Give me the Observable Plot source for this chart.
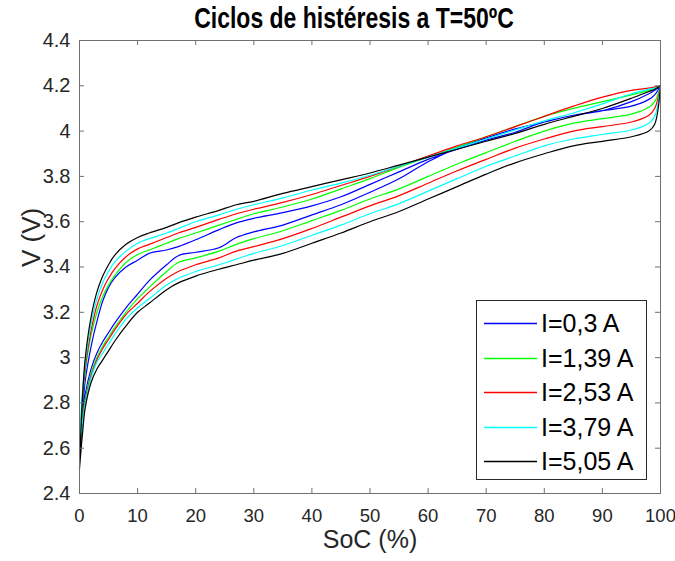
<!DOCTYPE html>
<html><head><meta charset="utf-8">
<script src="https://cdn.jsdelivr.net/npm/d3@7"></script>
<script src="https://cdn.jsdelivr.net/npm/@observablehq/plot@0.6"></script>
<style>
body{margin:0;background:#fff;}
#wrap{position:relative;width:675px;height:561px;font-family:"Liberation Sans",Arial,sans-serif;background:#fff;}
#title{position:absolute;top:2px;left:354px;transform:translateX(-50%) scaleY(1.25);transform-origin:50% 0;font-weight:bold;font-size:23px;white-space:nowrap;color:#000;}
#legend{position:absolute;left:476px;top:300px;width:169px;height:178px;border:1px solid #2a2a2a;background:#fff;}
.item{position:absolute;left:0;width:169px;height:30px;}
.item svg{position:absolute;left:7px;top:0;}
.item .tx{position:absolute;left:64px;top:0;line-height:30px;font-size:25px;color:#000;white-space:nowrap;}
</style>
</head><body>
<div id="wrap"><div id="title">Ciclos de histéresis a T=50ºC</div></div>
<script>
// SoC grid (%)
const soc = [0, 0.5, 1, 2, 3, 4, 5, 6, 8, 10, 12, 15, 17, 20, 24, 27, 30, 35, 40, 45, 50, 55, 60, 65, 70, 75, 80, 85, 90, 95, 98, 99, 100];
const labels = ["I=0,3 A", "I=1,39 A", "I=2,53 A", "I=3,79 A", "I=5,05 A"];
const colors = ["#0000ff", "#00ff00", "#ff0000", "#00ffff", "#000000"];
const xTicks = [0, 10, 20, 30, 40, 50, 60, 70, 80, 90, 100];
const yTicks = [2.4, 2.6, 2.8, 3, 3.2, 3.4, 3.6, 3.8, 4, 4.2, 4.4];

// charge (upper) branches, V
const charge03  = [2.64, 2.76, 2.90, 3.05, 3.16, 3.25, 3.31, 3.35, 3.40, 3.43, 3.46, 3.475, 3.49, 3.52, 3.565, 3.595, 3.615, 3.64, 3.67, 3.71, 3.765, 3.82, 3.875, 3.92, 3.96, 3.995, 4.04, 4.07, 4.09, 4.13, 4.165, 4.18, 4.20];
const charge139 = [2.56, 2.80, 2.94, 3.10, 3.20, 3.27, 3.32, 3.36, 3.42, 3.455, 3.475, 3.505, 3.525, 3.55, 3.585, 3.61, 3.635, 3.665, 3.70, 3.745, 3.79, 3.84, 3.885, 3.93, 3.975, 4.02, 4.065, 4.10, 4.13, 4.16, 4.18, 4.19, 4.20];
const charge253 = [2.58, 2.82, 2.96, 3.12, 3.23, 3.30, 3.35, 3.39, 3.445, 3.48, 3.50, 3.53, 3.55, 3.575, 3.61, 3.635, 3.655, 3.685, 3.72, 3.76, 3.80, 3.845, 3.89, 3.935, 3.975, 4.02, 4.065, 4.11, 4.15, 4.18, 4.19, 4.195, 4.20];
const charge379 = [2.62, 2.85, 2.98, 3.15, 3.26, 3.33, 3.38, 3.42, 3.47, 3.505, 3.525, 3.55, 3.57, 3.60, 3.63, 3.655, 3.675, 3.705, 3.74, 3.77, 3.805, 3.845, 3.885, 3.925, 3.965, 4.005, 4.045, 4.08, 4.12, 4.165, 4.185, 4.19, 4.20];
const charge505 = [2.51, 2.82, 3.00, 3.18, 3.29, 3.36, 3.41, 3.45, 3.50, 3.53, 3.55, 3.575, 3.595, 3.62, 3.65, 3.675, 3.69, 3.725, 3.755, 3.785, 3.815, 3.85, 3.885, 3.92, 3.955, 3.99, 4.03, 4.065, 4.10, 4.145, 4.175, 4.185, 4.20];

// discharge (lower) branches, V
const discharge03  = [2.64, 2.74, 2.84, 2.95, 3.02, 3.07, 3.11, 3.15, 3.22, 3.28, 3.34, 3.41, 3.45, 3.465, 3.485, 3.53, 3.555, 3.585, 3.63, 3.675, 3.73, 3.79, 3.865, 3.925, 3.97, 4.01, 4.04, 4.07, 4.09, 4.11, 4.14, 4.16, 4.20];
const discharge139 = [2.56, 2.72, 2.82, 2.93, 3.00, 3.05, 3.09, 3.13, 3.20, 3.26, 3.31, 3.38, 3.42, 3.44, 3.47, 3.50, 3.525, 3.56, 3.605, 3.65, 3.70, 3.745, 3.80, 3.855, 3.905, 3.955, 4.00, 4.035, 4.055, 4.075, 4.105, 4.13, 4.20];
const discharge253 = [2.58, 2.71, 2.81, 2.92, 2.99, 3.04, 3.08, 3.12, 3.19, 3.24, 3.29, 3.35, 3.38, 3.41, 3.44, 3.47, 3.49, 3.525, 3.57, 3.62, 3.67, 3.715, 3.77, 3.825, 3.875, 3.925, 3.965, 4.00, 4.02, 4.04, 4.07, 4.10, 4.20];
const discharge379 = [2.62, 2.71, 2.80, 2.91, 2.98, 3.02, 3.06, 3.10, 3.17, 3.22, 3.26, 3.32, 3.35, 3.38, 3.41, 3.435, 3.46, 3.495, 3.54, 3.585, 3.635, 3.68, 3.735, 3.79, 3.845, 3.89, 3.935, 3.965, 3.985, 4.005, 4.035, 4.065, 4.20];
const discharge505 = [2.51, 2.66, 2.78, 2.89, 2.95, 2.99, 3.03, 3.07, 3.14, 3.20, 3.24, 3.30, 3.33, 3.36, 3.39, 3.41, 3.43, 3.46, 3.505, 3.55, 3.60, 3.645, 3.70, 3.755, 3.81, 3.86, 3.90, 3.935, 3.955, 3.975, 4.00, 4.03, 4.20];

const charges = [charge03, charge139, charge253, charge379, charge505];
const discharges = [discharge03, discharge139, discharge253, discharge379, discharge505];

const rows = [];
labels.forEach((lab, k) => {
  soc.forEach((s, i) => rows.push({label: lab, soc: s, v: charges[k][i]}));
  for (let i = soc.length - 1; i >= 0; i--) rows.push({label: lab, soc: soc[i], v: discharges[k][i]});
});

const axisCol = "#707070";
const font = '"Liberation Sans", Arial, sans-serif';

const chart = Plot.plot({
  width: 675, height: 561,
  marginTop: 40, marginBottom: 68, marginLeft: 79, marginRight: 15,
  style: {fontFamily: font, background: "transparent", overflow: "visible"},
  x: {domain: [0, 100]},
  y: {domain: [2.4, 4.4]},
  color: {domain: labels, range: colors},
  marks: [
    Plot.line(rows, {x: "soc", y: "v", z: "label", stroke: "label", strokeWidth: 1.2, curve: "catmull-rom"}),
    Plot.frame({stroke: axisCol}),
    Plot.ruleX(xTicks, {insetTop: 448, stroke: axisCol}),
    Plot.ruleX(xTicks, {insetBottom: 448, stroke: axisCol}),
    Plot.ruleY(yTicks, {insetRight: 576, stroke: axisCol}),
    Plot.ruleY(yTicks, {insetLeft: 576, stroke: axisCol}),
    Plot.axisX(xTicks, {tickSize: 0, tickPadding: 15, fontSize: 18.5, fill: "#262626", label: null}),
    Plot.axisY(yTicks, {tickSize: 0, tickPadding: 9, fontSize: 20, fill: "#262626", label: null, tickFormat: d3.format("~g")}),
    Plot.text(["SoC (%)"], {frameAnchor: "bottom", dy: 54, fontSize: 25, fill: "#262626"}),
    Plot.text(["V (V)"], {frameAnchor: "left", dx: -48, rotate: -90, fontSize: 26, fill: "#262626"})
  ]
});
chart.style.position = "absolute";
chart.style.left = "0px";
chart.style.top = "0px";
const wrap = document.getElementById("wrap");
wrap.insertBefore(chart, wrap.firstChild);

const legend = document.createElement("div");
legend.id = "legend";
labels.forEach((lab, k) => {
  const it = document.createElement("div");
  it.className = "item";
  it.style.top = (7 + k * 34.5) + "px";
  const ns = "http://www.w3.org/2000/svg";
  const sw = document.createElementNS(ns, "svg");
  sw.setAttribute("width", "54");
  sw.setAttribute("height", "30");
  const ln = document.createElementNS(ns, "line");
  ln.setAttribute("x1", "0"); ln.setAttribute("x2", "53");
  ln.setAttribute("y1", "15.5"); ln.setAttribute("y2", "15.5");
  ln.setAttribute("stroke", colors[k]);
  ln.setAttribute("stroke-width", "1.3");
  sw.appendChild(ln);
  const tx = document.createElement("div");
  tx.className = "tx";
  tx.textContent = lab;
  it.appendChild(sw); it.appendChild(tx);
  legend.appendChild(it);
});
wrap.appendChild(legend);
</script>
</body></html>
